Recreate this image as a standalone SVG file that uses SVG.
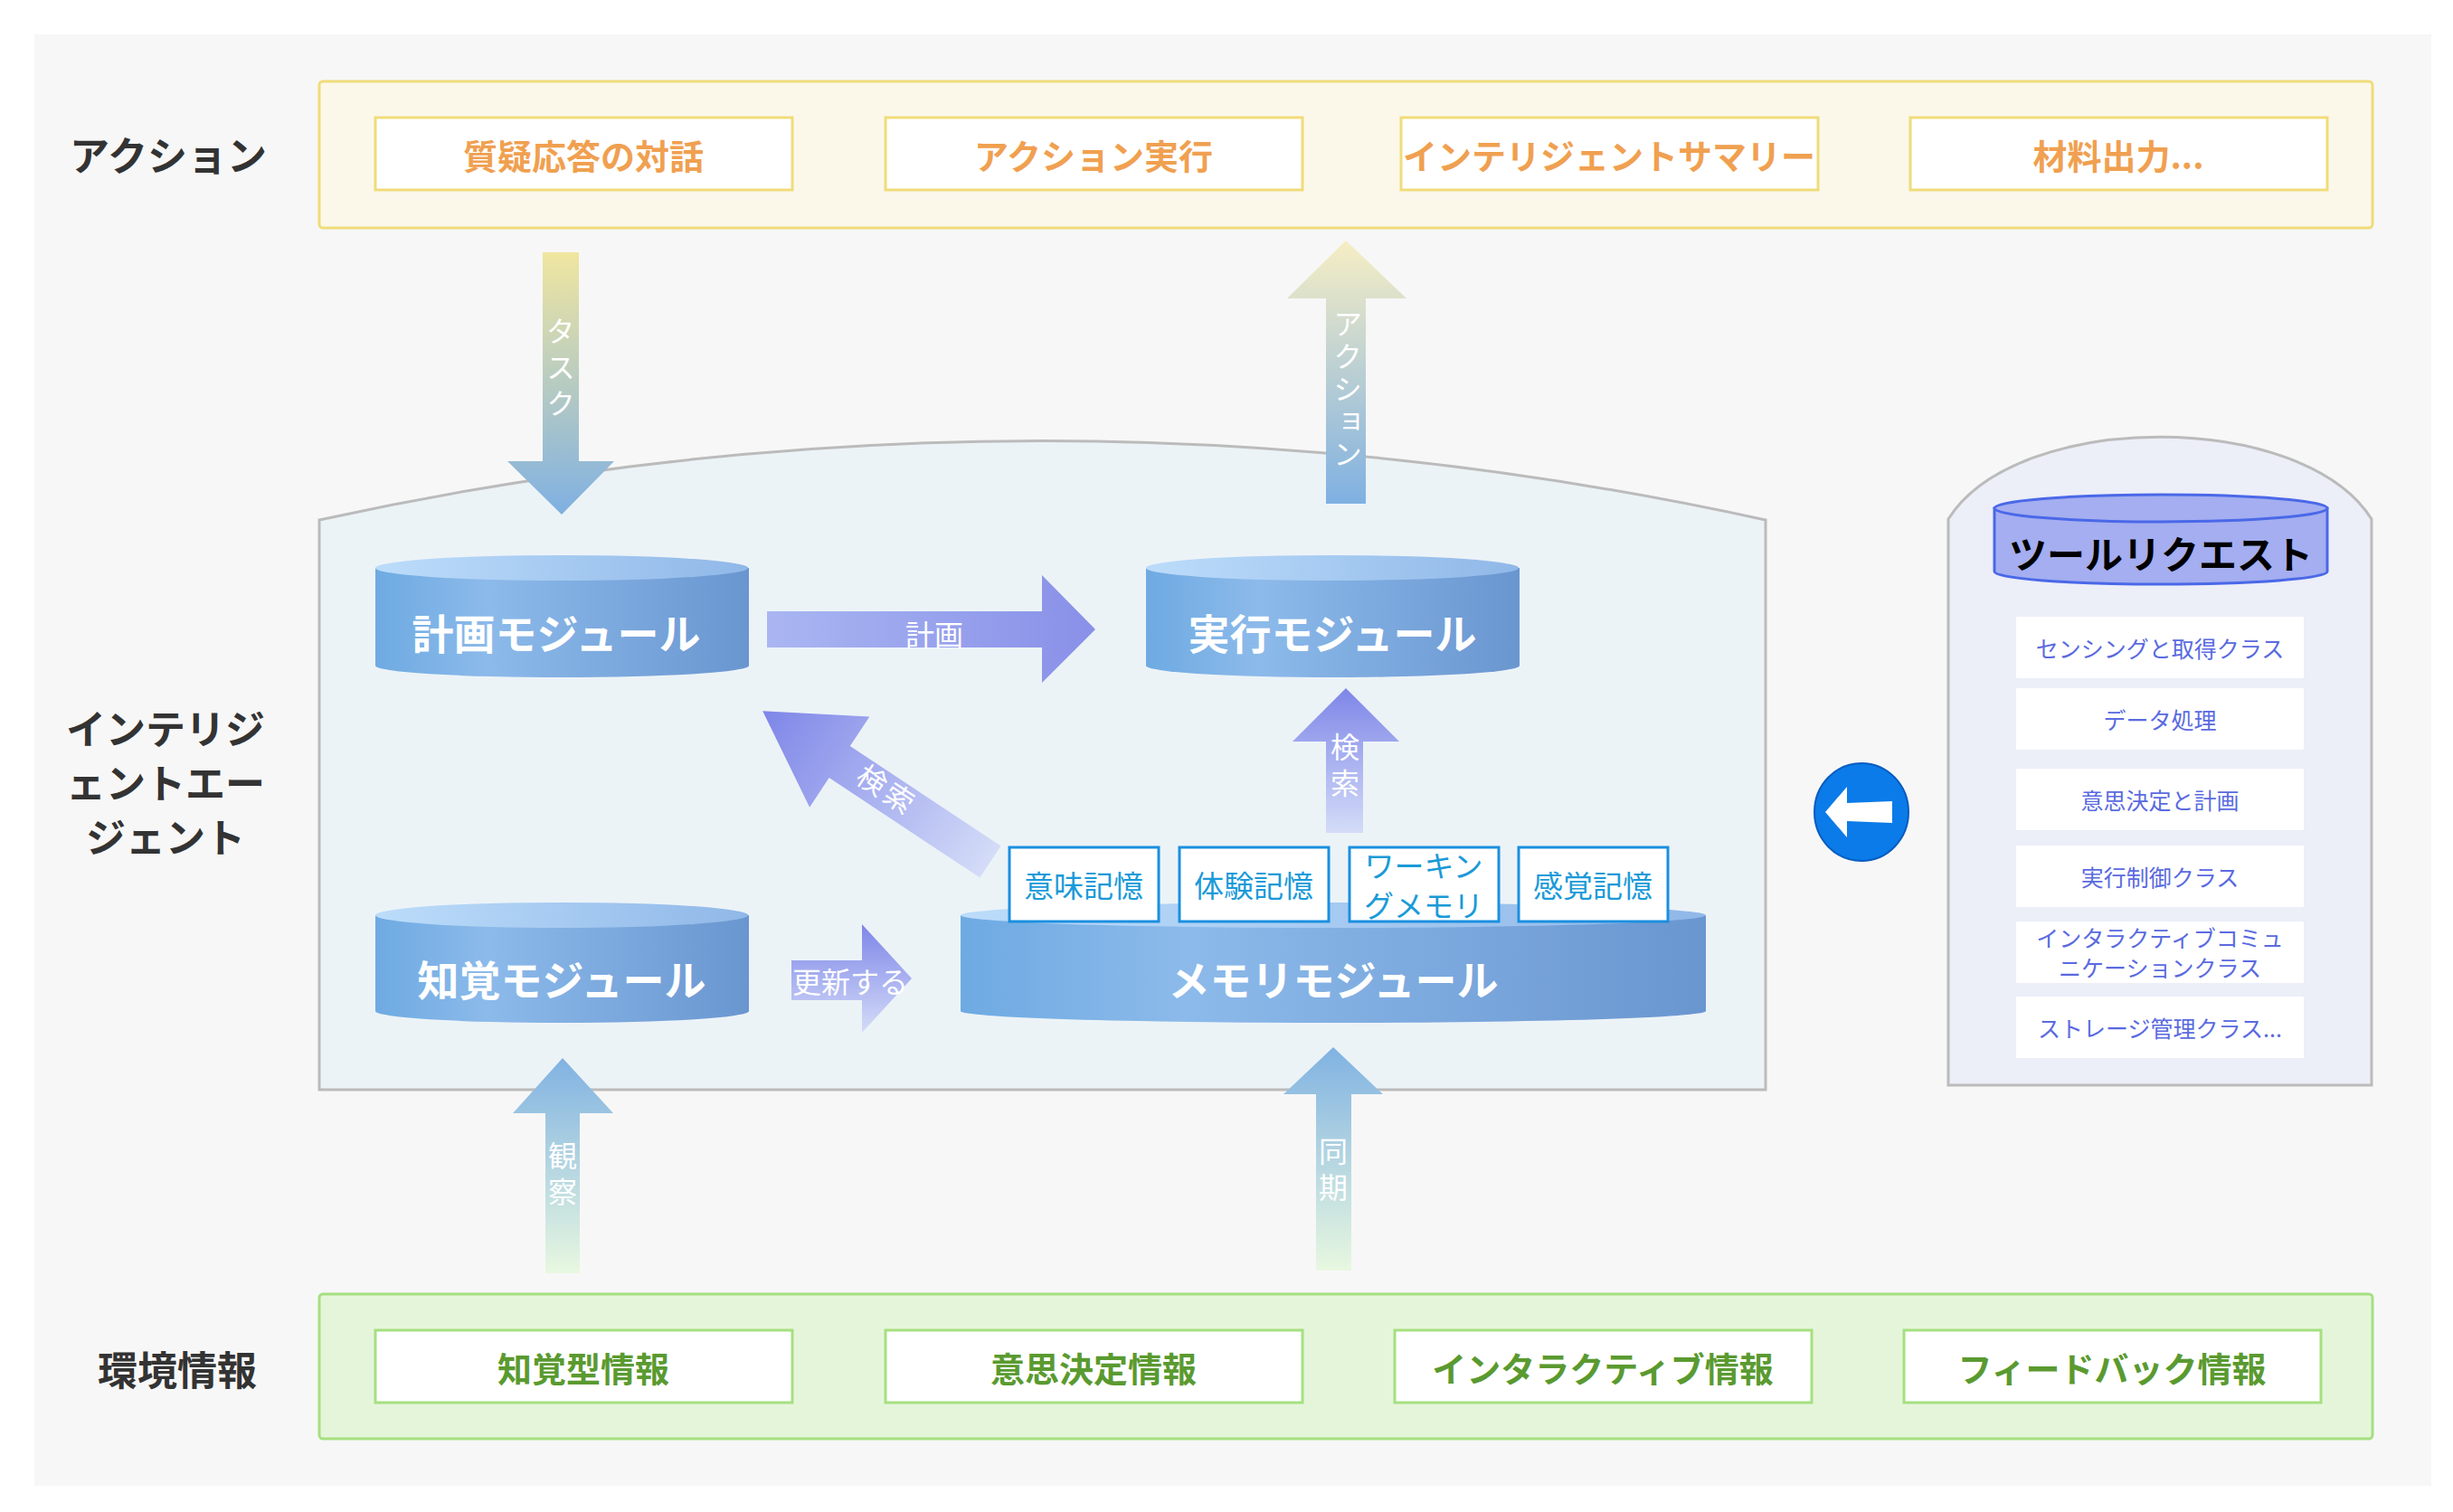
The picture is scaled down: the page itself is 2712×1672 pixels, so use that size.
<svg xmlns="http://www.w3.org/2000/svg" width="2712" height="1672" viewBox="0 0 2712 1672">
<defs>
<linearGradient id="cyl" x1="0" y1="0" x2="1" y2="0"><stop offset="0" stop-color="#6eaae2"/><stop offset="0.3" stop-color="#8cbaea"/><stop offset="1" stop-color="#6a96d0"/></linearGradient>
<linearGradient id="cylTop" x1="0" y1="0" x2="1" y2="0"><stop offset="0" stop-color="#bcdcfa"/><stop offset="1" stop-color="#90b8e8"/></linearGradient>
<linearGradient id="gTask" x1="0" y1="0" x2="0" y2="1"><stop offset="0" stop-color="#f0e6a0"/><stop offset="1" stop-color="#7fb0e2"/></linearGradient>
<linearGradient id="gAct" x1="0" y1="0" x2="0" y2="1"><stop offset="0" stop-color="#f6eec4"/><stop offset="1" stop-color="#7fb0e2"/></linearGradient>
<linearGradient id="gObs" x1="0" y1="0" x2="0" y2="1"><stop offset="0" stop-color="#80b2e2"/><stop offset="1" stop-color="#e8f8e0"/></linearGradient>
<linearGradient id="gPurpV" x1="0" y1="0" x2="0" y2="1"><stop offset="0" stop-color="#7e86e8"/><stop offset="1" stop-color="#d4dcf8"/></linearGradient>
<linearGradient id="gPurpH" x1="0" y1="0" x2="1" y2="0"><stop offset="0" stop-color="#aab6f2"/><stop offset="1" stop-color="#8890e8"/></linearGradient>
<linearGradient id="gDiag" x1="1" y1="0" x2="0" y2="0"><stop offset="0" stop-color="#7e86e8"/><stop offset="1" stop-color="#d4dcf8"/></linearGradient>
<style>
text{font-family:"Noto Sans CJK JP","Noto Sans",sans-serif;text-anchor:middle;dominant-baseline:central}
.lbl{font-size:44px;font-weight:bold;fill:#333}
.abox{fill:#fff;stroke:#f0dc7a;stroke-width:3}
.atxt{font-size:38px;font-weight:bold;fill:#f0a050}
.ebox{fill:#fff;stroke:#a5e080;stroke-width:3}
.etxt{font-size:38px;font-weight:bold;fill:#5a9a30}
.ctxt{font-size:46px;font-weight:bold;fill:#fff}
.mbox{fill:#fff;stroke:#1a8fe0;stroke-width:3}
.mtxt{font-size:33px;fill:#1a9ad8}
.tbox{fill:#fff}
.ttxt{font-size:25px;fill:#5a6ae0}
.wt{font-size:32px;fill:#fff}
.vt{writing-mode:tb;letter-spacing:8px}
</style>
</defs>
<rect x="38" y="38" width="2650" height="1605" fill="#f7f7f7"/>
<g id="band-action">
<rect x="353" y="90" width="2270" height="162" rx="4" fill="#fbf8ea" stroke="#f0dc7a" stroke-width="3"/>
<text class="lbl" x="186" y="170">アクション</text>
<rect class="abox" x="415" y="130" width="461" height="80"/><text class="atxt" x="645" y="170">質疑応答の対話</text>
<rect class="abox" x="979" y="130" width="461" height="80"/><text class="atxt" x="1209" y="170">アクション実行</text>
<rect class="abox" x="1549" y="130" width="461" height="80"/><text class="atxt" x="1779" y="170" font-size="34">インテリジェントサマリー</text>
<rect class="abox" x="2112" y="130" width="461" height="80"/><text class="atxt" x="2342" y="170">材料出力...</text>
</g>
<g id="band-env">
<rect x="353" y="1431" width="2270" height="160" rx="4" fill="#e5f5da" stroke="#a5e080" stroke-width="3"/>
<text class="lbl" x="196" y="1513">環境情報</text>
<rect class="ebox" x="415" y="1471" width="461" height="80"/><text class="etxt" x="645" y="1511">知覚型情報</text>
<rect class="ebox" x="979" y="1471" width="461" height="80"/><text class="etxt" x="1209" y="1511">意思決定情報</text>
<rect class="ebox" x="1542" y="1471" width="461" height="80"/><text class="etxt" x="1772" y="1511">インタラクティブ情報</text>
<rect class="ebox" x="2105" y="1471" width="461" height="80"/><text class="etxt" x="2335" y="1511">フィードバック情報</text>
</g>
<g id="agent">
<path d="M353,1205 L353,575 Q1152,400 1952,575 L1952,1205 Z" fill="#ecf3f7" stroke="#bbbbbb" stroke-width="3"/>
<text class="lbl" x="183" y="804" font-size="42">インテリジ</text>
<text class="lbl" x="183" y="864" font-size="42">ェントエー</text>
<text class="lbl" x="183" y="924" font-size="42">ジェント</text>
</g>
<g id="tools">
<path d="M2154,1200 L2154,574 C2230,453 2546,453 2622,574 L2622,1200 Z" fill="#eceef8" stroke="#bbbbbb" stroke-width="3"/>
<path d="M2205,562 L2205,632 A184,14 0 0 0 2573,632 L2573,562 Z" fill="#a4aef0" stroke="#4a68e8" stroke-width="3"/>
<ellipse cx="2389" cy="562" rx="184" ry="15" fill="#a4aef0" stroke="#4a68e8" stroke-width="3"/>
<text x="2389" y="610" font-size="42" font-weight="bold" fill="#000">ツールリクエスト</text>
<rect class="tbox" x="2229" y="682" width="318" height="68"/><text class="ttxt" x="2388" y="716">センシングと取得クラス</text>
<rect class="tbox" x="2229" y="761" width="318" height="68"/><text class="ttxt" x="2388" y="795">データ処理</text>
<rect class="tbox" x="2229" y="850" width="318" height="68"/><text class="ttxt" x="2388" y="884">意思決定と計画</text>
<rect class="tbox" x="2229" y="935" width="318" height="68"/><text class="ttxt" x="2388" y="969">実行制御クラス</text>
<rect class="tbox" x="2229" y="1019" width="318" height="68"/><text class="ttxt" x="2388" y="1036">インタラクティブコミュ</text><text class="ttxt" x="2388" y="1069">ニケーションクラス</text>
<rect class="tbox" x="2229" y="1102" width="318" height="68"/><text class="ttxt" x="2388" y="1136">ストレージ管理クラス...</text>
</g>
<g id="node-plan">
<path d="M415,628 L415,736 A206,13 0 0 0 828,736 L828,628 Z" fill="url(#cyl)"/>
<ellipse cx="621" cy="628" rx="206" ry="14" fill="url(#cylTop)"/>
<text class="ctxt" x="615" y="698">計画モジュール</text>
</g>
<g id="node-exec">
<path d="M1267,628 L1267,736 A206,13 0 0 0 1680,736 L1680,628 Z" fill="url(#cyl)"/>
<ellipse cx="1473" cy="628" rx="206" ry="14" fill="url(#cylTop)"/>
<text class="ctxt" x="1473" y="698">実行モジュール</text>
</g>
<g id="node-perc">
<path d="M415,1012 L415,1118 A206,13 0 0 0 828,1118 L828,1012 Z" fill="url(#cyl)"/>
<ellipse cx="621" cy="1012" rx="206" ry="14" fill="url(#cylTop)"/>
<text class="ctxt" x="621" y="1081">知覚モジュール</text>
</g>
<g id="node-memory">
<path d="M1062,1012 L1062,1118 A412,13 0 0 0 1886,1118 L1886,1012 Z" fill="url(#cyl)"/>
<ellipse cx="1474" cy="1012" rx="412" ry="14" fill="url(#cylTop)"/>
<text class="ctxt" x="1474" y="1081">メモリモジュール</text>
<rect class="mbox" x="1116" y="937" width="165" height="82"/><text class="mtxt" x="1198" y="978">意味記憶</text>
<rect class="mbox" x="1304" y="937" width="165" height="82"/><text class="mtxt" x="1386" y="978">体験記憶</text>
<rect class="mbox" x="1492" y="937" width="165" height="82"/><text class="mtxt" x="1574" y="956" font-size="28">ワーキン</text><text class="mtxt" x="1574" y="1000" font-size="28">グメモリ</text>
<rect class="mbox" x="1679" y="937" width="165" height="82"/><text class="mtxt" x="1761" y="978">感覚記憶</text>
</g>
<g id="connectors">
<polygon points="600,279 640,279 640,510 679,510 621,569 561,510 600,510" fill="url(#gTask)"/>
<text class="wt vt" font-size="30" x="620" y="410">タスク</text>
<polygon points="1466,557 1510,557 1510,330 1555,330 1488,266 1423,330 1466,330" fill="url(#gAct)"/>
<text class="wt vt" font-size="26" x="1490" y="432" style="letter-spacing:4px">アクション</text>
<polygon points="848,676 1152,676 1152,636 1211,696 1152,755 1152,716 848,716" fill="url(#gPurpH)"/>
<text class="wt" x="1033" y="700">計画</text>
<polygon points="1466,921 1507,921 1507,820 1547,820 1488,761 1429,820 1466,820" fill="url(#gPurpV)"/>
<text class="wt vt" x="1487" y="850">検索</text>
<g transform="translate(1095,953) rotate(213.5)">
<polygon points="0,-21 200,-21 200,-60 302,0 200,60 200,21 0,21" fill="url(#gDiag)"/>
</g>
<text class="wt" x="982" y="872" transform="rotate(33.5 982 872)" style="letter-spacing:4px">検索</text>
<polygon points="875,1062 953,1062 953,1022 1008,1082 953,1142 953,1106 875,1106" fill="url(#gPurpV)"/>
<text class="wt" font-size="30" x="940" y="1084">更新する</text>
<polygon points="603,1408 641,1408 641,1231 678,1231 622,1170 567,1231 603,1231" fill="url(#gObs)"/>
<text class="wt vt" x="622" y="1302">観察</text>
<polygon points="1455,1405 1494,1405 1494,1210 1529,1210 1474,1158 1419,1210 1455,1210" fill="url(#gObs)"/>
<text class="wt vt" x="1474" y="1297">同期</text>
<g id="tool-link">
<ellipse cx="2058" cy="898" rx="52" ry="54" fill="#0a7be8" stroke="#0a5cc0" stroke-width="2"/>
<polygon points="2018,898 2042,870 2042,888 2092,886 2092,910 2042,908 2042,926" fill="#fff"/>
</g>
</g>
</svg>
